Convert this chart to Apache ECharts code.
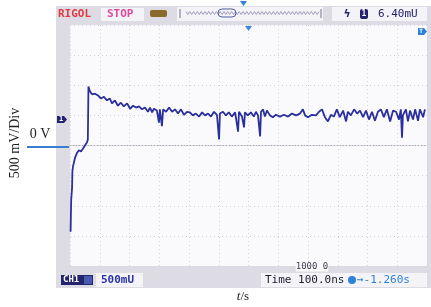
<!DOCTYPE html>
<html><head><meta charset="utf-8">
<script src="https://cdn.jsdelivr.net/npm/echarts@6/dist/echarts.min.js"></script>
<style>html,body{margin:0;padding:0;background:#fff}#c{width:431px;height:307px}</style>
</head><body><div id="c"></div>
<script>
// time in ns (100 ns/div, 12 div), voltage in V (500 mV/div)
const timeNs = [2,3,4,7,8,10,17,24,30,37,44,50,57,60,62,67,74,84,94,104,114,124,134,141,151,161,171,181,192,202,212,222,232,242,252,262,269,276,282,292,299,302,309,313,323,333,343,353,363,373,383,393,403,413,423,434,444,454,464,474,484,494,501,504,514,524,534,544,555,565,568,578,585,588,598,608,618,625,632,639,642,649,655,662,672,682,692,706,719,733,746,760,773,783,790,800,813,827,837,847,857,867,877,887,897,907,918,928,934,944,955,965,975,985,995,1005,1015,1025,1035,1045,1055,1065,1076,1086,1096,1106,1112,1116,1119,1129,1136,1143,1153,1160,1170,1176,1187,1193];
const voltV = [-1.43,-1.15,-0.90,-0.70,-0.43,-0.35,-0.20,-0.12,-0.08,-0.10,-0.05,0.0,0.05,0.10,0.98,0.90,0.85,0.86,0.83,0.78,0.81,0.75,0.78,0.70,0.75,0.66,0.71,0.65,0.70,0.61,0.66,0.63,0.65,0.60,0.63,0.56,0.63,0.55,0.61,0.58,0.38,0.60,0.32,0.60,0.56,0.63,0.56,0.60,0.53,0.60,0.51,0.56,0.55,0.50,0.53,0.48,0.55,0.50,0.53,0.48,0.56,0.51,0.10,0.53,0.56,0.50,0.55,0.48,0.55,0.23,0.56,0.48,0.30,0.55,0.50,0.55,0.48,0.56,0.50,0.15,0.56,0.60,0.48,0.58,0.50,0.47,0.51,0.48,0.51,0.48,0.53,0.50,0.53,0.60,0.50,0.47,0.51,0.50,0.56,0.60,0.47,0.40,0.51,0.48,0.60,0.47,0.58,0.40,0.56,0.50,0.60,0.53,0.58,0.47,0.58,0.43,0.56,0.41,0.56,0.60,0.47,0.60,0.40,0.58,0.56,0.43,0.60,0.13,0.50,0.60,0.40,0.58,0.43,0.60,0.41,0.60,0.47,0.60];
const xTicks = {min:0, max:1200, interval:100};
const yTicks = {min:-2, max:2, interval:0.5};
const texts = {ylab:'500 mV/Div', zero:'0 V', xlab:'t/s', brand:'RIGOL', state:'STOP', trig:'6.40mU', ch:'CH1', scale:'500mU', time:'Time 100.0ns', offs:'\u2192-1.260s', mid:'1000 0'};

const chart = echarts.init(document.getElementById('c'), null, {renderer:'canvas'});
const mono = 'DejaVu Sans Mono';
const serif = 'Liberation Serif';
let wave = [];
for (let i=0;i<=70;i++){ wave.push([186+i*1.9, 13 + (i%2?1.5:-1.5)]); }
chart.setOption({
  animation:false,
  backgroundColor:'#ffffff',
  grid:{left:70, top:25, width:357, height:241, show:false},
  xAxis:{type:'value', min:xTicks.min, max:xTicks.max, interval:xTicks.interval,
    axisLabel:{show:false}, axisTick:{show:false},
    axisLine:{show:true, onZero:true, lineStyle:{color:'#a8a8b8', type:[1,2], width:1}},
    splitLine:{show:true, lineStyle:{color:'#d2d2dc', type:[1,3], width:1}}},
  yAxis:{type:'value', min:yTicks.min, max:yTicks.max, interval:yTicks.interval,
    axisLabel:{show:false}, axisTick:{show:false}, axisLine:{show:false},
    splitLine:{show:true, lineStyle:{color:'#d2d2dc', type:[1,3], width:1}}},
  series:[{type:'line', data:timeNs.map((t,i)=>[t,voltV[i]]), showSymbol:false, symbol:'none',
    lineStyle:{color:'#2b309c', width:1.8}, z:5}],
  graphic:[
    {type:'rect', shape:{x:56,y:6,width:376,height:282}, style:{fill:'#dddce5'}, z:-10},
    {type:'rect', shape:{x:70,y:25,width:357,height:241}, style:{fill:'#fafafc'}, z:-9},
    {type:'text', x:58, y:14, style:{text:texts.brand, fill:'#e23a45', font:'bold 11px '+mono, verticalAlign:'middle'}},
    {type:'rect', shape:{x:101,y:8,width:43,height:13}, style:{fill:'#f4f3f8'}},
    {type:'text', x:107, y:14, style:{text:texts.state, fill:'#e0489c', font:'bold 11px '+mono, verticalAlign:'middle'}},
    {type:'rect', shape:{x:150,y:10,width:17,height:7,r:2}, style:{fill:'#8a6a2c'}},
    {type:'rect', shape:{x:177,y:7,width:146,height:14}, style:{fill:'#f4f3f8'}},
    {type:'polyline', shape:{points:wave}, style:{stroke:'#8a8aa8', lineWidth:0.8, fill:null}},
    {type:'line', shape:{x1:180,y1:9,x2:180,y2:18}, style:{stroke:'#707090', lineWidth:1}},
    {type:'line', shape:{x1:321,y1:9,x2:321,y2:18}, style:{stroke:'#707090', lineWidth:1}},
    {type:'rect', shape:{x:218,y:9,width:18,height:8,r:4}, style:{fill:'none', stroke:'#5060a0', lineWidth:1}},
    {type:'polygon', shape:{points:[[240,1],[247,1],[243.5,6]]}, style:{fill:'#2f80d8'}},
    {type:'rect', shape:{x:332,y:7,width:95,height:14}, style:{fill:'#f4f3f8'}},
    {type:'text', x:347, y:14, style:{text:'\u03DF', fill:'#24246e', font:'bold 11px '+mono, align:'center', verticalAlign:'middle'}},
    {type:'rect', shape:{x:360,y:9,width:8,height:10,r:2}, style:{fill:'#24246e'}},
    {type:'text', x:364, y:14, style:{text:'1', fill:'#fff', font:'bold 8px '+mono, align:'center', verticalAlign:'middle'}},
    {type:'text', x:378, y:14, style:{text:texts.trig, fill:'#24246e', font:'11px '+mono, verticalAlign:'middle'}},
    {type:'polygon', shape:{points:[[245,26],[252,26],[248.5,31]]}, style:{fill:'#3a8ae0'}, z:10},
    {type:'polygon', shape:{points:[[418,28],[424,28],[427,31.5],[424,35],[418,35]]}, style:{fill:'#2f80d8'}, z:10},
    {type:'text', x:421, y:31.5, style:{text:'T', fill:'#fff', font:'bold 6px '+mono, align:'center', verticalAlign:'middle'}, z:11},
    {type:'polygon', shape:{points:[[57,116],[64,116],[67,119.5],[64,123],[57,123]]}, style:{fill:'#24246e'}, z:10},
    {type:'text', x:61, y:119.5, style:{text:'1', fill:'#fff', font:'bold 7px '+mono, align:'center', verticalAlign:'middle'}, z:11},
    {type:'rect', shape:{x:61,y:275,width:32,height:10}, style:{fill:'#24246e'}},
    {type:'text', x:63, y:280, style:{text:texts.ch, fill:'#fff', font:'bold 9px '+mono, verticalAlign:'middle'}},
    {type:'rect', shape:{x:84,y:276,width:8,height:8}, style:{fill:'#4a5ab0'}},
    {type:'rect', shape:{x:96,y:273,width:47,height:14}, style:{fill:'#f4f3f8'}},
    {type:'text', x:101, y:280, style:{text:texts.scale, fill:'#2a36a8', font:'bold 11px '+mono, verticalAlign:'middle'}},
    {type:'rect', shape:{x:261,y:273,width:166,height:14}, style:{fill:'#f4f3f8'}},
    {type:'text', x:265, y:280, style:{text:texts.time, fill:'#202030', font:'11px '+mono, verticalAlign:'middle'}},
    {type:'circle', shape:{cx:352,cy:280,r:4}, style:{fill:'#2f80d8'}},
    {type:'text', x:357, y:280, style:{text:texts.offs, fill:'#2f80d8', font:'11px '+mono, verticalAlign:'middle'}},
    {type:'text', x:312, y:267, style:{text:texts.mid, fill:'#404050', font:'9px '+mono, align:'center', verticalAlign:'middle', backgroundColor:'#fafafc'}, z:10},
    {type:'text', x:15, y:143, rotation:Math.PI/2, style:{text:texts.ylab, fill:'#222', font:'14px '+serif, align:'center', verticalAlign:'middle'}},
    {type:'text', x:40, y:134, style:{text:texts.zero, fill:'#222', font:'14px '+serif, align:'center', verticalAlign:'middle'}},
    {type:'line', shape:{x1:27,y1:147,x2:69,y2:147}, style:{stroke:'#3a7ed0', lineWidth:2}, z:10},
    {type:'text', x:243, y:297, style:{rich:{i:{font:'italic 13px '+serif, fill:'#222'}, n:{font:'13px '+serif, fill:'#222'}}, text:'{i|t}{n|/s}', align:'center', verticalAlign:'middle'}}
  ]
});
</script></body></html>
